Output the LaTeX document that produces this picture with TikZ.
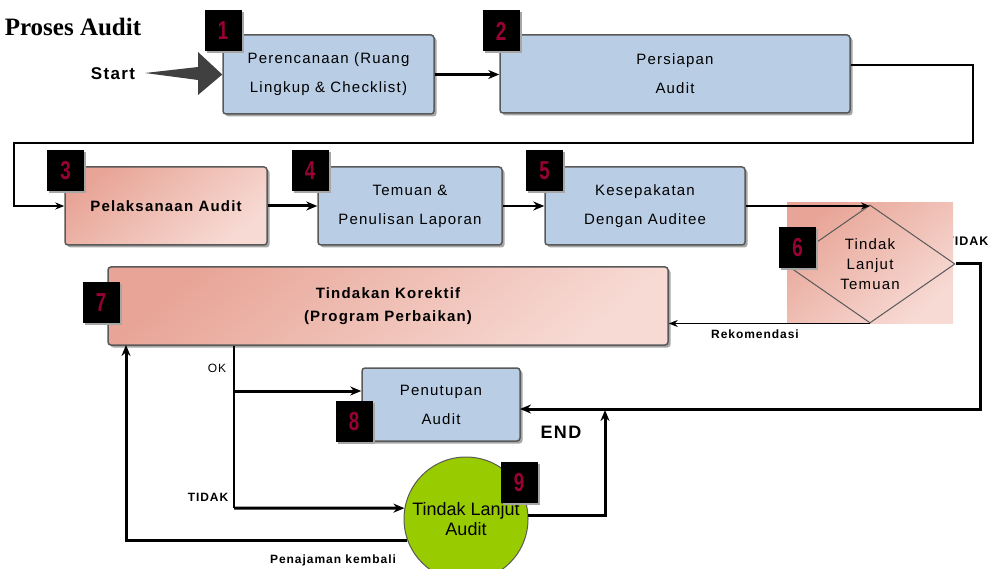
\documentclass[tikz,border=0pt]{standalone}
\usepackage{fontspec}
\usepackage{graphicx}
\setmainfont{Liberation Sans}[LetterSpace=8]
\newfontfamily\plainsans{Liberation Sans}
\newfontfamily\titlefont{Liberation Serif}
\usetikzlibrary{arrows.meta,shapes.geometric,shadows}

\definecolor{boxblue}{HTML}{B9CDE5}
\definecolor{boxline}{HTML}{595959}
\definecolor{pinkA}{HTML}{E8A597}
\definecolor{pinkB}{HTML}{F7DAD4}
\definecolor{numred}{HTML}{990033}
\definecolor{ballgreen}{HTML}{99CC00}
\definecolor{startgray}{HTML}{404040}

\newcommand{\numtxt}[1]{\scalebox{0.72}[1]{#1}}

\tikzset{
  stepbox/.style={draw=boxline, line width=1.5pt, rounded corners=3pt, fill=boxblue,
    align=center, inner sep=0pt, font=\fontsize{15}{29}\selectfont,
    drop shadow={shadow xshift=2.5pt, shadow yshift=-2.5pt, fill=black!35, opacity=1}},
  pinkbox/.style={stepbox, top color=pinkA, bottom color=pinkB, shading angle=40},
  numbox/.style={fill=black, text=numred, minimum width=37pt, minimum height=41pt,
    inner sep=0pt, font=\plainsans\bfseries\fontsize{26}{26}\selectfont,
    drop shadow={shadow xshift=2pt, shadow yshift=-2pt, fill=black!35, opacity=1}},
  smalltxt/.style={font=\bfseries\fontsize{12}{14}\selectfont},
  thickarr/.style={line width=3pt, -{Stealth[length=11pt,width=9pt]}},
  thinarr/.style={line width=1.8pt, -{Stealth[length=9pt,width=7pt]}},
}

\begin{document}
\begin{tikzpicture}[x=1pt,y=-1pt]
\useasboundingbox (0,0) rectangle (990,569);

% title and start
\node[font=\titlefont\bfseries\fontsize{25}{25}\selectfont] (title) at (73,27) {Proses Audit};
\node[font=\bfseries\fontsize{17}{17}\selectfont] (start) at (113,74) {Start};

% upper row
\node[stepbox, minimum width=211pt, minimum height=79pt] (k1) at (328.5,74.5) {Perencanaan (Ruang\\Lingkup \& Checklist)};
\node[stepbox, minimum width=350pt, minimum height=78pt] (k2) at (675,74) {Persiapan\\Audit};
\fill[startgray] (145,73) -- (198,67) -- (198,52) -- (k1.west) -- (198,95) -- (198,80) -- cycle;

% middle row
\node[pinkbox, minimum width=202pt, minimum height=78pt, font=\bfseries\fontsize{15}{29}\selectfont] (k3) at (166,206) {Pelaksanaan Audit};
\node[stepbox, minimum width=184pt, minimum height=78pt] (k4) at (410,206) {Temuan \&\\Penulisan Laporan};
\node[stepbox, minimum width=200pt, minimum height=78pt] (k5) at (645,206) {Kesepakatan\\Dengan Auditee};

% decision
\node[font=\bfseries\fontsize{12.5}{14}\selectfont, anchor=west, inner sep=0pt] (tdk1) at (946,241) {TIDAK};
\node[minimum width=166pt, minimum height=120pt, top color=pinkA, bottom color=pinkB, shading angle=40] (bg6) at (870,263) {};
\node[diamond, draw=boxline, line width=1pt, minimum width=170pt, minimum height=118pt, inner sep=0pt,
  align=center, font=\fontsize{15}{20}\selectfont] (dia) at (870,264) {Tindak\\Lanjut\\Temuan};

% lower part
\node[pinkbox, minimum width=560pt, minimum height=78pt, font=\bfseries\fontsize{15}{23}\selectfont] (k7) at (388,306) {Tindakan Korektif\\(Program Perbaikan)};
\node[stepbox, minimum width=158pt, minimum height=73pt] (k8) at (441,404.5) {Penutupan\\Audit};
\node[circle, draw=boxline, line width=1pt, fill=ballgreen, minimum size=124pt, inner sep=0pt,
  align=center, font=\plainsans\fontsize{18}{20}\selectfont] (c9) at (466,519) {Tindak Lanjut\\Audit};

% number labels
\node[numbox] (n1) at (223,31) {\numtxt{1}};
\node[numbox] (n2) at (501,31) {\numtxt{2}};
\node[numbox] (n3) at (65.5,171) {\numtxt{3}};
\node[numbox] (n4) at (310,171) {\numtxt{4}};
\node[numbox] (n5) at (544.5,171) {\numtxt{5}};
\node[numbox] (n6) at (797.5,248) {\numtxt{6}};
\node[numbox] (n7) at (101,302.5) {\numtxt{7}};
\node[numbox] (n8) at (354,421.5) {\numtxt{8}};
\node[numbox] (n9) at (519,482.5) {\numtxt{9}};

% other labels
\node[smalltxt] (rek) at (755,334) {Rekomendasi};
\node[font=\fontsize{12}{14}\selectfont] (ok) at (217,368) {OK};
\node[smalltxt] (tdk2) at (208,497) {TIDAK};
\node[font=\bfseries\fontsize{18}{18}\selectfont] (end) at (561,432) {END};
\node[smalltxt] (pen) at (333,560) {Penajaman kembali};

\coordinate (okfork) at (234,391);
\coordinate (tdfork) at (234,508);
\coordinate (end8) at (520,409);
\coordinate (endup) at (605,410);
\coordinate (k7in) at (126,345);

% connectors
\draw[thickarr] (k1.east) -- (k1.east -| k2.west);
\draw[thinarr] ([yshift=9pt]k2.east) -- (973,65) -- (973,143) -- (14,143) |- (k3.west);
\draw[thickarr] (k3.east) -- (k4.west);
\draw[thickarr, line width=2.5pt] (k4.east) -- (k5.west);
\draw[thinarr, line width=1.5pt] (k5.east) -- (k5.east -| dia.north);
\draw[thickarr] (dia.east) -- ++(25,0) |- (end8);
\draw[thinarr] (dia.south) -- (dia.south -| k7.east);
\draw[line width=1.8pt] (k7.south -| okfork) -- (tdfork);
\draw[thickarr] (okfork) -- (okfork -| k8.west);
\draw[thickarr] (tdfork) -- (c9.170);
\draw[thickarr] (c9.3) -| (endup);
\draw[thickarr] (c9.200) -| (k7in);
\end{tikzpicture}
\end{document}
